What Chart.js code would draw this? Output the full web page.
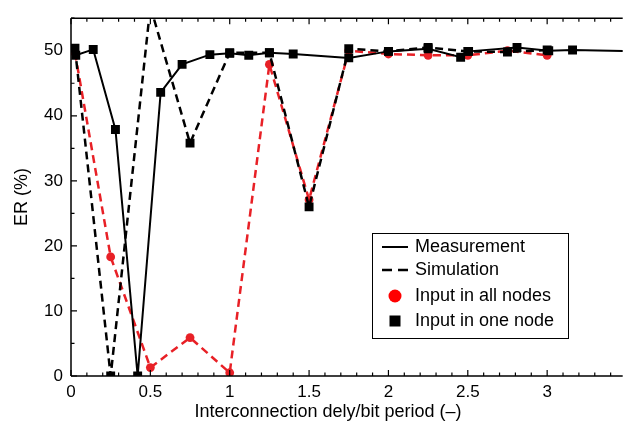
<!DOCTYPE html>
<html>
<head>
<meta charset="utf-8">
<script src="https://cdn.jsdelivr.net/npm/chart.js@4.4.1/dist/chart.umd.min.js"></script>
<style>
  body { margin: 0; background: #fff; }
</style>
</head>
<body>
<canvas id="myChart" width="629" height="428"></canvas>
<script>
// measurement, input in one node (solid + squares)
var measX = [0.03, 0.14, 0.28, 0.42, 0.565, 0.70, 0.875, 1.0, 1.12, 1.25, 1.4, 1.75, 2.0, 2.25, 2.455, 2.505, 2.81, 3.01, 3.16, 3.6]
var measY = [49.3, 50.2, 37.9, 0, 43.6, 47.9, 49.4, 49.6, 49.3, 49.7, 49.5, 48.9, 49.9, 50.3, 49.0, 49.9, 50.5, 50.0, 50.1, 49.9]

// simulation
var simX = [0.025, 0.25, 0.5, 0.75, 1.0, 1.25, 1.5, 1.75, 2.0, 2.25, 2.5, 2.75, 3.0]
var simOneY = [50.4, 0, 56.8, 35.8, 49.7, 49.7, 26.0, 50.3, 49.9, 50.5, 49.9, 49.8, 50.1]
var simAllY = [49.7, 18.3, 1.3, 5.9, 0.5, 47.9, 27.1, 50.0, 49.5, 49.3, 49.3, 50.0, 49.3]

var xTicks = [0, 0.5, 1, 1.5, 2, 2.5, 3]
var yTicks = [0, 10, 20, 30, 40, 50]

var RED = 'rgb(232, 32, 38)'
var FONT = '"Liberation Sans", Arial, Helvetica, sans-serif'

function pts(xs, ys) {
    return xs.map(function (x, i) { return {x: x, y: ys[i]} })
}

// box, inward ticks (major + minor) on bottom, top and left, x title
var frame = {
    id: 'frame',
    afterDraw: function (chart) {
        var ctx = chart.ctx, a = chart.chartArea
        var xs = chart.scales.x, ys = chart.scales.y
        ctx.save()
        ctx.strokeStyle = '#000'
        ctx.lineWidth = 1.5
        ctx.beginPath()
        ctx.moveTo(a.left, a.top); ctx.lineTo(a.right, a.top)
        ctx.moveTo(a.left, a.top); ctx.lineTo(a.left, a.bottom)
        ctx.moveTo(a.left, a.bottom); ctx.lineTo(a.right, a.bottom)
        ctx.stroke()
        ctx.lineWidth = 1.2
        ctx.beginPath()
        for (var i = 0; i <= 34; i++) {
            var px = xs.getPixelForValue(i / 10)
            var len = (i % 5 === 0) ? 6 : 3.5
            ctx.moveTo(px, a.bottom); ctx.lineTo(px, a.bottom - len)
            ctx.moveTo(px, a.top); ctx.lineTo(px, a.top + len)
        }
        for (var v = 0; v <= 55; v += 5) {
            var py = ys.getPixelForValue(v)
            var l = (v % 10 === 0) ? 6 : 3.5
            ctx.moveTo(a.left, py); ctx.lineTo(a.left + l, py)
        }
        ctx.stroke()

        ctx.fillStyle = '#000'
        ctx.font = '18px ' + FONT
        ctx.textAlign = 'center'
        ctx.textBaseline = 'middle'
        ctx.fillText('Interconnection dely/bit period (\u2013)', 328, 412)
        ctx.restore()
    }
}

var legendBox = {
    id: 'legendBox',
    afterDraw: function (chart) {
        var ctx = chart.ctx
        ctx.save()
        ctx.fillStyle = '#fff'
        ctx.fillRect(372, 233, 197, 106)
        ctx.strokeStyle = '#000'
        ctx.lineWidth = 1
        ctx.strokeRect(372.5, 233.5, 196, 105)

        ctx.lineWidth = 2
        ctx.beginPath(); ctx.moveTo(382, 247); ctx.lineTo(408, 247); ctx.stroke()
        ctx.lineWidth = 2.5
        ctx.beginPath()
        ctx.moveTo(382, 270); ctx.lineTo(392, 270)
        ctx.moveTo(398, 270); ctx.lineTo(408, 270)
        ctx.stroke()

        ctx.fillStyle = 'rgb(255, 0, 0)'
        ctx.beginPath(); ctx.arc(395, 296, 6.5, 0, Math.PI * 2); ctx.fill()
        ctx.fillStyle = '#000'
        ctx.fillRect(389.5, 315.5, 11, 11)

        ctx.font = '18px ' + FONT
        ctx.textBaseline = 'middle'
        ctx.fillText('Measurement', 415, 247)
        ctx.fillText('Simulation', 415, 270)
        ctx.fillText('Input in all nodes', 415, 296)
        ctx.fillText('Input in one node', 415, 321)
        ctx.restore()
    }
}

var ctx = document.getElementById('myChart')
var myChart = new Chart(ctx, {
    type: 'line',
    data: {
        datasets: [{
            label: 'Measurement, one node',
            data: pts(measX, measY),
            borderColor: '#000',
            backgroundColor: '#000',
            borderWidth: 2,
            pointStyle: 'rect',
            pointRadius: measX.map(function (x) { return x > 3.4 ? 0 : 6.3 }),
            pointBorderWidth: 0,
            pointBackgroundColor: '#000'
        }, {
            label: 'Simulation, one node',
            data: pts(simX, simOneY),
            borderColor: '#000',
            backgroundColor: '#000',
            borderWidth: 2.5,
            borderDash: [8, 5],
            pointStyle: 'rect',
            pointRadius: 6.3,
            pointBorderWidth: 0,
            pointBackgroundColor: '#000'
        }, {
            label: 'Simulation, all nodes',
            data: pts(simX, simAllY),
            borderColor: RED,
            backgroundColor: RED,
            borderWidth: 2.5,
            borderDash: [8, 5],
            pointStyle: 'circle',
            pointRadius: 4.4,
            pointBorderWidth: 0,
            pointBackgroundColor: RED
        }]
    },
    options: {
        responsive: false,
        animation: false,
        devicePixelRatio: 1,
        layout: {padding: {top: 14, right: 0, left: 0, bottom: 0}},
        plugins: {legend: {display: false}, tooltip: {enabled: false}},
        elements: {line: {tension: 0}},
        scales: {
            x: {
                type: 'linear',
                min: 0,
                max: 3.476,
                grid: {display: false, drawTicks: false},
                border: {display: false},
                afterBuildTicks: function (s) { s.ticks = xTicks.map(function (v) { return {value: v} }) },
                afterFit: function (s) { s.height = 52 },
                ticks: {
                    color: '#000',
                    padding: 6,
                    maxRotation: 0,
                    font: {family: FONT, size: 17},
                    callback: function (v) { return String(v) }
                },
                title: {display: false}
            },
            y: {
                min: 0,
                max: 55,
                grid: {display: false, drawTicks: false},
                border: {display: false},
                afterBuildTicks: function (s) { s.ticks = yTicks.map(function (v) { return {value: v} }) },
                afterFit: function (s) { s.width = 71 },
                ticks: {
                    color: '#000',
                    padding: 8,
                    font: {family: FONT, size: 17}
                },
                title: {
                    display: true,
                    text: 'ER (%)',
                    color: '#000',
                    font: {family: FONT, size: 18},
                    padding: {top: 11, bottom: 0}
                }
            }
        }
    },
    plugins: [frame, legendBox]
})
</script>
</body>
</html>
